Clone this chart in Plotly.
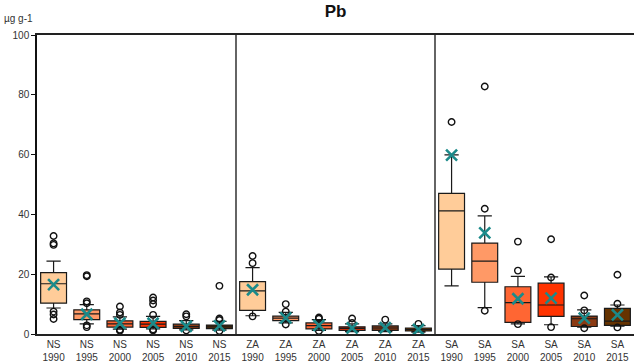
import plotly.graph_objects as go

# Sites and sampling years
groups = ["NS", "ZA", "SA"]
years = [1990, 1995, 2000, 2005, 2010, 2015]
year_colors = ["#FFCC99", "#FF9966", "#FF6633", "#FF3300", "#8B3A13", "#663300"]

# Box statistics (µg g-1), ordered NS 1990..2015, ZA 1990..2015, SA 1990..2015
q1 = [10.3, 4.8, 2.3, 2.2, 1.9, 1.8,
      7.9, 4.5, 1.7, 1.2, 1.2, 1.0,
      21.7, 17.3, 3.9, 5.9, 2.5, 2.9]
median = [16.8, 6.7, 3.4, 3.3, 2.5, 2.4,
          14.4, 5.3, 2.8, 1.9, 2.0, 1.5,
          41.2, 24.4, 10.5, 9.7, 5.1, 4.3]
q3 = [20.5, 8.1, 4.4, 4.2, 3.3, 3.0,
      17.5, 6.0, 3.7, 2.4, 2.7, 2.0,
      47.0, 30.4, 15.8, 17.0, 6.0, 8.6]
lower = [8.7, 3.4, 1.6, 1.7, 1.4, 1.3,
         6.1, 3.7, 1.2, 0.8, 0.8, 0.6,
         16.1, 8.8, 3.4, 3.1, 2.3, 2.6]
upper = [24.4, 9.8, 5.7, 5.9, 4.5, 4.2,
         22.2, 7.2, 4.8, 3.4, 3.4, 2.8,
         59.9, 39.5, 19.3, 19.1, 8.1, 9.7]
mean = [16.5, 6.6, 3.6, 3.6, 2.6, 2.7,
        14.8, 5.4, 2.9, 2.0, 2.1, 1.5,
        59.8, 33.8, 11.8, 12.0, 5.3, 6.4]
outliers = [
    [32.8, 30.3, 29.8, 7.5, 6.5, 5.0],
    [19.7, 19.3, 10.9, 10.3, 2.9, 2.3],
    [9.2, 7.2, 6.4, 1.4, 1.1],
    [12.2, 11.2, 10.0, 6.4, 1.5, 1.2],
    [6.6, 5.9, 1.2],
    [16.1, 5.2, 4.7, 1.0],
    [26.1, 23.7, 5.9],
    [10.0, 7.5, 3.2],
    [5.5, 5.1, 1.0],
    [5.2, 3.7],
    [4.8],
    [3.4],
    [70.9],
    [82.8, 41.9, 7.8],
    [30.9, 21.2, 3.3],
    [31.7, 18.9, 2.3],
    [12.9, 7.9, 1.9],
    [19.8, 10.1, 2.2],
]

labels = [f"{g}<br>{y}" for g in groups for y in years]
positions = list(range(len(labels)))

fig = go.Figure()

for i, pos in enumerate(positions):
    fig.add_trace(go.Box(
        x=[pos], q1=[q1[i]], median=[median[i]], q3=[q3[i]],
        lowerfence=[lower[i]], upperfence=[upper[i]],
        fillcolor=year_colors[i % len(years)],
        line=dict(color="#1a1a1a", width=1.2),
        width=0.78, whiskerwidth=0.55,
        boxpoints=False, showlegend=False, hoverinfo="skip",
    ))

# Outliers as open circles
ox, oy = [], []
for pos, vals in zip(positions, outliers):
    ox += [pos] * len(vals)
    oy += vals
fig.add_trace(go.Scatter(
    x=ox, y=oy, mode="markers", showlegend=False, cliponaxis=False,
    hoverinfo="skip",
    marker=dict(symbol="circle-open", size=6.5, color="#111",
                line=dict(width=1.4, color="#111")),
))

# Means as teal crosses
fig.add_trace(go.Scatter(
    x=positions, y=mean, mode="markers", showlegend=False, cliponaxis=False,
    marker=dict(symbol="x-thin", size=11, color="#1B8A8A",
                line=dict(width=2.6, color="#1B8A8A")),
))

# Vertical separators between site groups
for xs in (5.5, 11.5):
    fig.add_shape(type="line", x0=xs, x1=xs, y0=0, y1=100, xref="x", yref="y",
                  line=dict(color="#111", width=1.3))

font = "Liberation Sans, Arial, sans-serif"
fig.update_layout(
    width=634, height=362,
    margin=dict(l=37, r=0, t=35, b=28),
    paper_bgcolor="white", plot_bgcolor="white",
    boxmode="overlay",
    font=dict(family=font, size=10, color="#222"),
    title=dict(text="<b>Pb</b>", x=0.5, xref="paper", y=0.985, yanchor="top",
               font=dict(family=font, size=17, color="#111")),
    xaxis=dict(range=[-0.5, 17.5], tickmode="array", tickvals=positions,
               ticktext=labels, showline=True, linecolor="#222", linewidth=2,
               mirror=True, ticks="", showgrid=False, zeroline=False,
               tickfont=dict(size=10, color="#333")),
    yaxis=dict(range=[0, 100], tickvals=[0, 20, 40, 60, 80, 100],
               showline=True, linecolor="#111", linewidth=1.5,
               ticks="outside", ticklen=4, tickcolor="#111",
               showgrid=False, zeroline=False,
               tickfont=dict(size=10, color="#333")),
    annotations=[dict(text="µg g-1", xref="paper", yref="paper", x=0, y=1,
                      xanchor="right", yanchor="bottom", xshift=-2, yshift=9,
                      showarrow=False, font=dict(size=10, color="#333"))],
)

fig.write_html("out.html")
